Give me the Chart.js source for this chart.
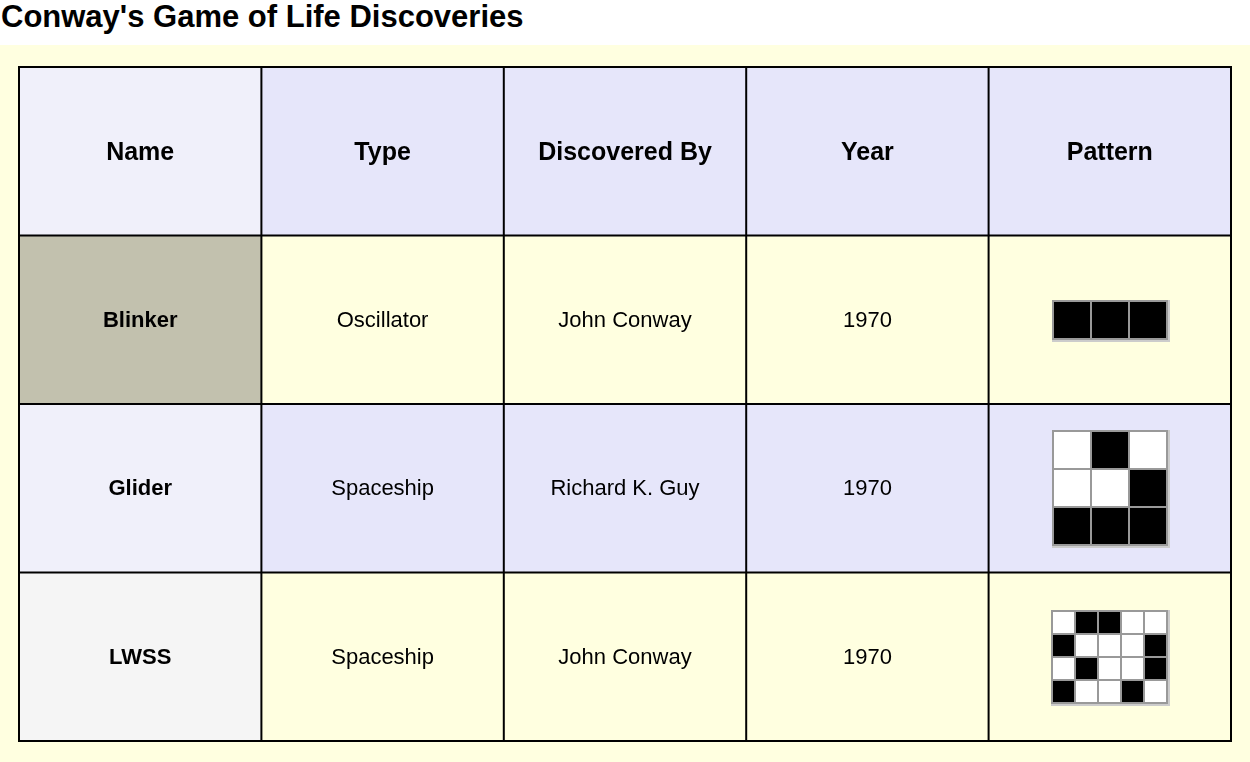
<!DOCTYPE html>
<html><head><meta charset="utf-8">
<script src="https://cdn.jsdelivr.net/npm/chart.js"></script>
<style>
body{margin:0;background:#fff;font-family:"Liberation Sans",Arial,sans-serif;}
#t{height:45px;font-weight:bold;font-size:31px;line-height:34px;padding-left:1px;}
#w{background:#ffffe0;width:1250px;height:717px;position:relative;}
</style></head><body>
<div id="t">Conway's Game of Life Discoveries</div>
<div id="w"><canvas id="c" width="1250" height="717"></canvas></div>
<script>
const headers = ["Name","Type","Discovered By","Year","Pattern"];
const names = ["Blinker","Glider","LWSS"];
const types = ["Oscillator","Spaceship","Spaceship"];
const discoverers = ["John Conway","Richard K. Guy","John Conway"];
const years = [1970,1970,1970];
const patterns = [
  [[1,1,1]],
  [[0,1,0],[0,0,1],[1,1,1]],
  [[0,1,1,0,0],[1,0,0,0,1],[0,1,0,0,1],[1,0,0,1,0]]
];
const cellSizes = [36,36,21];
const rowFills = ["#ffffe0","#e6e6fa","#ffffe0"];
const nameFills = ["#c2c1ae","#f0f0fa","#f5f5f5"];
const headerFill = "#e6e6fa", headerNameFill = "#f0f0fa";

const tablePlugin = {
  id:'table',
  beforeDatasetsDraw(chart){
    const ctx = chart.ctx, xs = chart.scales.x, ys = chart.scales.y;
    const X = i => xs.getPixelForValue(i), Y = j => ys.getPixelForValue(j);
    const rows = [headers].concat(names.map((n,i)=>[n,types[i],discoverers[i],String(years[i]),null]));
    ctx.save();
    rows.forEach((r,j)=>{
      r.forEach((v,i)=>{
        const x0=X(i),x1=X(i+1),y0=Y(j),y1=Y(j+1);
        let fill = j===0 ? (i===0?headerNameFill:headerFill) : (i===0?nameFills[j-1]:rowFills[j-1]);
        ctx.fillStyle=fill; ctx.fillRect(x0,y0,x1-x0,y1-y0);
        const cx=(x0+x1)/2, cy=(y0+y1)/2;
        if(v!==null){
          ctx.fillStyle="#000"; ctx.textAlign="center"; ctx.textBaseline="middle";
          ctx.font = (j===0? "bold 25px ":(i===0?"bold 22px ":"22px ")) + '"Liberation Sans", Arial, sans-serif';
          ctx.fillText(v,cx,cy+(j===0?2:1));
        } else {
          const p=patterns[j-1], s=cellSizes[j-1], g=2;
          const w=p[0].length*(s+g)+g, h=p.length*(s+g)+g;
          const px=Math.round(cx-w/2), py=Math.round(cy-h/2);
          ctx.fillStyle="#ccc"; ctx.fillRect(px,py,w+2,h+2);
          ctx.fillStyle="#999"; ctx.fillRect(px,py,w,h);
          p.forEach((row,rr)=>row.forEach((c,cc)=>{
            ctx.fillStyle=c?"#000":"#fff";
            ctx.fillRect(px+g+cc*(s+g),py+g+rr*(s+g),s,s);
          }));
        }
      });
    });
    ctx.strokeStyle="#000"; ctx.lineWidth=2;
    for(let i=0;i<=5;i++){ctx.beginPath();ctx.moveTo(X(i),Y(0)-1);ctx.lineTo(X(i),Y(4)+1);ctx.stroke();}
    for(let j=0;j<=4;j++){ctx.beginPath();ctx.moveTo(X(0)-1,Y(j));ctx.lineTo(X(5)+1,Y(j));ctx.stroke();}
    ctx.restore();
  }
};
new Chart(document.getElementById('c'),{
  type:'scatter',
  data:{datasets:[{data:[],pointRadius:0}]},
  options:{responsive:false,animation:false,
    layout:{padding:{left:19,right:19,top:22,bottom:21}},
    plugins:{legend:{display:false},tooltip:{enabled:false}},
    scales:{x:{type:'linear',min:0,max:5,display:false},
            y:{type:'linear',min:0,max:4,reverse:true,display:false}}},
  plugins:[tablePlugin]
});
</script></body></html>
